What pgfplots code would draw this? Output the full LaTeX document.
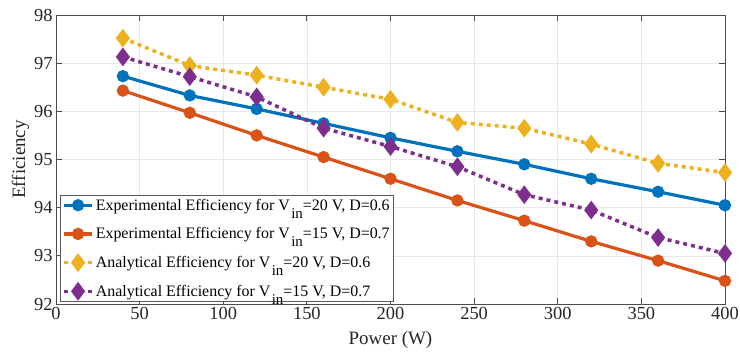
\documentclass[border=0pt]{standalone}
\usepackage{fontspec}
\setmainfont{Liberation Serif}
\usepackage{pgfplots}
\pgfplotsset{compat=1.18}
\definecolor{mblue}{rgb}{0,0.447,0.741}
\definecolor{morange}{rgb}{0.85,0.325,0.098}
\definecolor{myellow}{rgb}{0.929,0.694,0.125}
\definecolor{mpurple}{rgb}{0.494,0.184,0.556}
\newcommand{\Vin}{V\kern1.5bp\raisebox{-1.1ex}{\fontsize{15}{15}\selectfont in}}
\begin{document}
\begin{tikzpicture}
\useasboundingbox (-56bp,-50bp) rectangle (684bp,304bp);
\begin{axis}[
  scale only axis, width=669bp, height=289bp,
  xmin=0, xmax=400, ymin=92, ymax=98,
  xtick={0,50,...,400}, ytick={92,93,...,98},
  grid=major, grid style={gray!18, line width=0.6bp},
  axis line style={gray!60!black, line width=0.8bp},
  tick align=inside, major tick length=6bp,
  tick style={gray!60!black, line width=0.8bp},
  /pgf/number format/assume math mode=true,
  ticklabel style={font=\fontsize{18.5}{18.5}\selectfont, text=black!85},
  xlabel={Power (W)}, ylabel={Efficiency},
  label style={font=\fontsize{19}{19}\selectfont, text=black!85},
  xlabel style={yshift=-5bp},
  ylabel style={yshift=-2bp},
  legend style={at={(axis description cs:0.006,0.007)}, anchor=south west,
    font=\fontsize{16}{16}\selectfont, draw=gray!70!black, line width=0.6bp,
    row sep=12bp, inner sep=2bp},
  legend cell align=left,
  legend image code/.code={
    \draw[mark repeat=2,mark phase=2] plot coordinates {(0bp,0bp) (14bp,0bp) (28bp,0bp)};
  },
]
\addplot[color=mblue, line width=3.2bp, mark=*, mark size=4.5bp] coordinates {
(40,96.73) (80,96.33) (120,96.05) (160,95.75) (200,95.45) (240,95.17) (280,94.90) (320,94.60) (360,94.33) (400,94.05)};
\addlegendentry{Experimental Efficiency for \Vin=20 V, D=0.6}
\addplot[color=morange, line width=3.2bp, mark=*, mark size=4.5bp] coordinates {
(40,96.43) (80,95.97) (120,95.50) (160,95.05) (200,94.60) (240,94.15) (280,93.73) (320,93.30) (360,92.90) (400,92.48)};
\addlegendentry{Experimental Efficiency for \Vin=15 V, D=0.7}
\addplot[color=myellow, line width=3.5bp, dash pattern=on 4bp off 4bp, mark=diamond*, mark size=6.5bp, mark options={solid}] coordinates {
(40,97.52) (80,96.95) (120,96.75) (160,96.50) (200,96.25) (240,95.77) (280,95.65) (320,95.32) (360,94.92) (400,94.73)};
\addlegendentry{Analytical Efficiency for \Vin=20 V, D=0.6}
\addplot[color=mpurple, line width=3.5bp, dash pattern=on 4bp off 4bp, mark=diamond*, mark size=6.5bp, mark options={solid}] coordinates {
(40,97.13) (80,96.72) (120,96.30) (160,95.65) (200,95.27) (240,94.85) (280,94.27) (320,93.95) (360,93.38) (400,93.05)};
\addlegendentry{Analytical Efficiency for \Vin=15 V, D=0.7}
\end{axis}
\end{tikzpicture}
\end{document}
